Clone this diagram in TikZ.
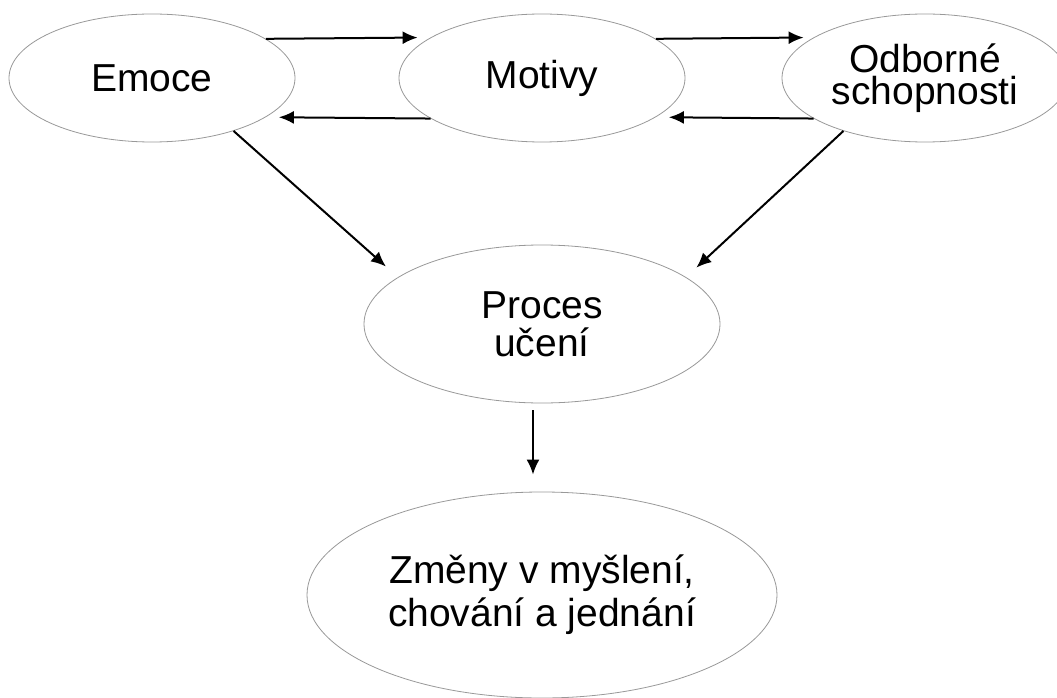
\documentclass[tikz,border=0pt]{standalone}
\usepackage{fontspec}
\setmainfont{Liberation Sans}
\usetikzlibrary{shapes.geometric,arrows.meta}
\begin{document}
\begin{tikzpicture}[x=1pt,y=-1pt,
  bub/.style={ellipse,draw=black!40,line width=0.8pt,inner sep=0pt,align=center},
  small/.style={bub,minimum width=286pt,minimum height=128pt},
  arr/.style={line width=2pt,-{Latex[length=15pt,width=13pt]}}]
\clip (0,0) rectangle (1057,698);
\fill[white] (0,0) rectangle (1057,698);
\node[small,font=\fontsize{39}{38}\selectfont] (emoce) at (152,78) {Emoce};
\node[small,font=\fontsize{39}{38}\selectfont] (motivy) at (542,78) {Motivy};
\node[small,font=\fontsize{39}{32.5}\selectfont] (odb) at (925,78) {Odborné\\schopnosti};
\node[bub,minimum width=356pt,minimum height=158pt,font=\fontsize{39}{38}\selectfont] (proces) at (542,324) {Proces\\učení};
\node[bub,minimum width=470pt,minimum height=206pt,font=\fontsize{39}{43}\selectfont] (zmeny) at (542,595) {Změny v myšlení,\\chování a jednání};
\draw[arr,shorten >=13pt] (emoce.19.7) -- (motivy.160.3);
\draw[arr,shorten >=13pt] (motivy.-160.3) -- (emoce.-19.7);
\draw[arr,shorten >=10pt] (motivy.19.7) -- (odb.160.3);
\draw[arr,shorten >=13pt] (odb.-160.3) -- (motivy.-19.7);
\draw[arr,shorten >=16pt] (emoce.-33.5) -- (proces.162.6);
\draw[arr,shorten >=14pt] (odb.-147.1) -- (proces.18.7);
\draw[arr,shorten <=7pt,shorten >=17pt] ([xshift=-9pt]proces.south) -- ([xshift=-9pt]zmeny.north);
\end{tikzpicture}
\end{document}
